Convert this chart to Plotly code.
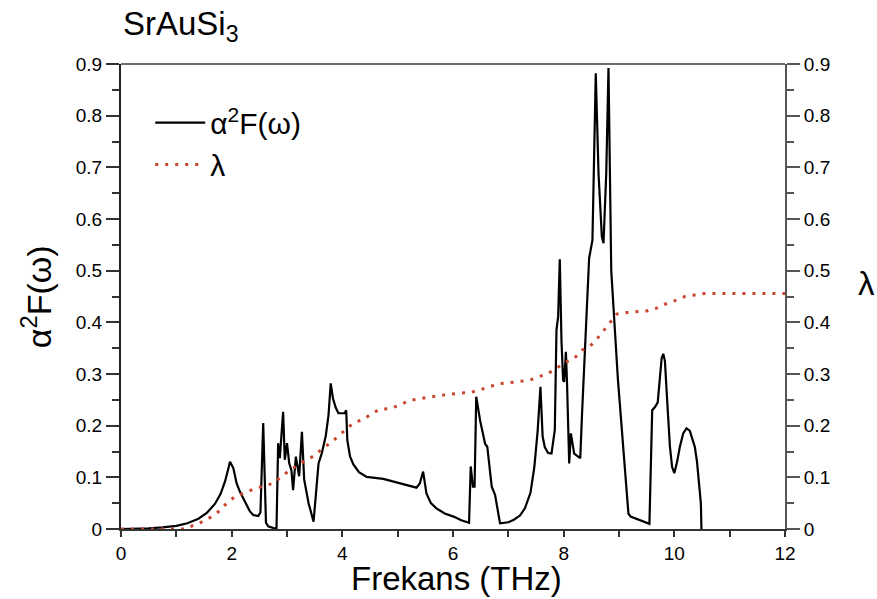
import plotly.graph_objects as go

# alpha^2 F(omega) spectral function
freq_a2f = [0.0, 0.25, 0.5, 0.75, 1.0, 1.2, 1.4, 1.55, 1.7, 1.8, 1.88, 1.94, 1.97, 2.03, 2.09,
            2.15, 2.21, 2.27, 2.33, 2.39, 2.48, 2.52, 2.57, 2.62, 2.66, 2.81, 2.84, 2.87, 2.93,
            2.96, 3.00, 3.04, 3.08, 3.11, 3.16, 3.22, 3.27, 3.31, 3.39, 3.48, 3.57, 3.63, 3.70,
            3.75, 3.79, 3.83, 3.88, 3.93, 4.04, 4.07, 4.09, 4.14, 4.20, 4.30, 4.44, 4.74, 5.04,
            5.34, 5.40, 5.46, 5.52, 5.60, 5.70, 5.85, 6.01, 6.15, 6.29, 6.32, 6.36, 6.39, 6.42,
            6.49, 6.58, 6.62, 6.70, 6.76, 6.85, 7.00, 7.10, 7.21, 7.30, 7.40, 7.47, 7.53, 7.58,
            7.62, 7.66, 7.72, 7.78, 7.84, 7.87, 7.90, 7.93, 7.96, 7.99, 8.01, 8.04, 8.06, 8.10,
            8.13, 8.19, 8.30, 8.33, 8.40, 8.45, 8.46, 8.52, 8.58, 8.63, 8.69, 8.72, 8.77, 8.81,
            8.84, 8.86, 8.98, 9.17, 9.21, 9.55, 9.60, 9.65, 9.70, 9.74, 9.77, 9.80, 9.83, 9.87,
            9.92, 9.96, 10.00, 10.05, 10.10, 10.16, 10.22, 10.28, 10.33, 10.37, 10.41, 10.45,
            10.48, 10.49]
a2f = [0.0, 0.0005, 0.0015, 0.003, 0.006, 0.011, 0.020, 0.031, 0.049, 0.068, 0.092, 0.117, 0.130,
       0.118, 0.088, 0.072, 0.059, 0.046, 0.034, 0.027, 0.025, 0.032, 0.205, 0.012, 0.005, 0.0,
       0.166, 0.137, 0.227, 0.134, 0.166, 0.127, 0.114, 0.075, 0.140, 0.102, 0.188, 0.096, 0.050,
       0.014, 0.127, 0.147, 0.180, 0.220, 0.282, 0.253, 0.235, 0.224, 0.224, 0.230, 0.172, 0.140,
       0.125, 0.110, 0.101, 0.097, 0.088, 0.080, 0.088, 0.111, 0.069, 0.050, 0.040, 0.030, 0.024,
       0.017, 0.012, 0.121, 0.082, 0.082, 0.256, 0.210, 0.165, 0.159, 0.082, 0.066, 0.011, 0.013,
       0.018, 0.026, 0.040, 0.070, 0.120, 0.190, 0.275, 0.179, 0.158, 0.147, 0.146, 0.192, 0.385,
       0.411, 0.522, 0.366, 0.288, 0.285, 0.343, 0.285, 0.127, 0.185, 0.146, 0.137, 0.218, 0.398,
       0.501, 0.524, 0.559, 0.882, 0.688, 0.566, 0.553, 0.690, 0.892, 0.600, 0.500, 0.290, 0.030,
       0.024, 0.010, 0.230, 0.236, 0.245, 0.300, 0.330, 0.339, 0.325, 0.250, 0.160, 0.120, 0.108,
       0.130, 0.159, 0.185, 0.195, 0.190, 0.175, 0.159, 0.130, 0.090, 0.049, 0.0]

# lambda (cumulative coupling constant)
freq_lam = [0.0, 0.5, 1.0, 1.16, 1.31, 1.49, 1.64, 1.78, 1.91, 2.06, 2.22, 2.39, 2.57, 2.74,
            2.90, 3.05, 3.20, 3.36, 3.51, 3.64, 3.78, 3.93, 4.07, 4.21, 4.38, 4.53, 4.68,
            4.86, 5.04, 5.19, 5.37, 5.55, 5.73, 5.95, 6.13, 6.31, 6.48, 6.64, 6.82, 7.00,
            7.20, 7.38, 7.56, 7.72, 7.87, 8.02, 8.19, 8.33, 8.48, 8.61, 8.73, 8.84, 8.96,
            9.14, 9.32, 9.50, 9.67, 9.83, 10.01, 10.19, 10.37, 10.55, 11.0, 11.5, 12.0]
lam = [0.0, 0.0, 0.0, 0.0, 0.007, 0.015, 0.024, 0.035, 0.050, 0.063, 0.069, 0.077, 0.083, 0.088,
       0.101, 0.114, 0.124, 0.134, 0.143, 0.156, 0.166, 0.180, 0.193, 0.206, 0.212, 0.223, 0.232,
       0.233, 0.240, 0.248, 0.252, 0.255, 0.258, 0.261, 0.263, 0.264, 0.269, 0.275, 0.281, 0.283,
       0.285, 0.288, 0.295, 0.301, 0.311, 0.322, 0.330, 0.346, 0.354, 0.369, 0.385, 0.401, 0.416,
       0.419, 0.421, 0.422, 0.427, 0.435, 0.442, 0.450, 0.453, 0.456, 0.456, 0.456, 0.456]

title_text = "SrAuSi<sub>3</sub>"
x_title = "Frekans (THz)"
y_title = "α<sup>2</sup>F(ω)"
y2_title = "λ"

FONT = "Liberation Sans, Arial, sans-serif"

fig = go.Figure()
fig.add_trace(go.Scatter(x=freq_a2f, y=a2f, mode="lines", name="α<sup>2</sup>F(ω)",
                         line=dict(color="black", width=2.2)))
fig.add_trace(go.Scatter(x=freq_lam, y=lam, mode="lines", name="λ", yaxis="y2",
                         line=dict(color="#c8452f", width=3, dash="3px,7px")))

axis_common = dict(showgrid=False, zeroline=False, ticks="outside", showline=True,
                   linewidth=2, tickwidth=1.5,
                   tickfont=dict(family=FONT, size=19, color="black"))

fig.update_layout(
    width=877, height=599,
    margin=dict(l=121, r=92, t=64, b=70),
    paper_bgcolor="white", plot_bgcolor="white",
    font=dict(family=FONT, color="black"),
    showlegend=True,
    legend=dict(x=0.044, y=0.93, xanchor="left", yanchor="top",
                font=dict(family=FONT, size=30, color="black"),
                bgcolor="rgba(0,0,0,0)", itemwidth=50),
    xaxis=dict(range=[0, 12], dtick=2, ticklen=6, linecolor="#333", tickcolor="#333",
               minor=dict(dtick=1, ticklen=6, ticks="outside", tickcolor="#333"),
               **axis_common),
    yaxis=dict(range=[0, 0.9], dtick=0.1, ticklen=13, linecolor="#222", tickcolor="#333",
               minor=dict(dtick=0.05, ticklen=7, ticks="outside", tickcolor="#333"),
               **axis_common),
    yaxis2=dict(range=[0, 0.9], dtick=0.1, ticklen=13, overlaying="y", side="right",
                linecolor="#555", tickcolor="#555",
                minor=dict(dtick=0.05, ticklen=7, ticks="outside", tickcolor="#555"),
                **axis_common),
    shapes=[dict(type="line", xref="paper", yref="paper", x0=0, x1=1, y0=1, y1=1,
                 line=dict(color="#6e6e6e", width=2))],
    annotations=[
        dict(text=title_text, xref="paper", yref="paper", x=0, y=1, xanchor="left",
             yanchor="middle", yshift=38, showarrow=False,
             font=dict(family=FONT, size=33, color="black")),
        dict(text=x_title, xref="paper", yref="paper", x=0.505, y=0, xanchor="center",
             yanchor="middle", yshift=-49, showarrow=False,
             font=dict(family=FONT, size=33, color="black")),
        dict(text=y_title, xref="paper", yref="paper", x=-0.127, y=0.5, xanchor="center",
             yanchor="middle", textangle=-90, showarrow=False,
             font=dict(family=FONT, size=34, color="black")),
        dict(text=y2_title, xref="paper", yref="paper", x=1.122, y=0.529, xanchor="center",
             yanchor="middle", showarrow=False,
             font=dict(family=FONT, size=33, color="black")),
    ],
)

fig.write_html("out.html")
